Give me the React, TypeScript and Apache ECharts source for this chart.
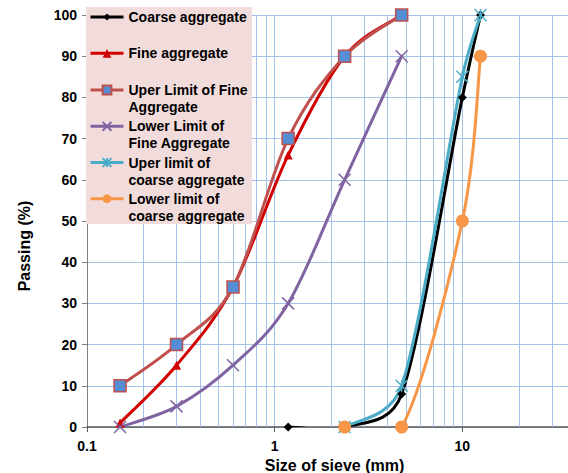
import React, { useEffect, useRef } from "react";
import * as echarts from "echarts";

// Sieve sizes (mm)
const sieveFine = [0.15, 0.3, 0.6, 1.18, 2.36, 4.75];
const sieveCoarse = [1.18, 2.36, 4.75, 10, 12.5];
const sieveCoarseLimits = [2.36, 4.75, 10, 12.5];

// Passing (%)
const coarseAggregate = [0, 0, 8, 80, 100];
const fineAggregate = [1, 15, 34, 66, 90, 100];
const upperLimitFine = [10, 20, 34, 70, 90, 100];
const lowerLimitFine = [0, 5, 15, 30, 60, 90];
const upperLimitCoarse = [0, 10, 85, 100];
const lowerLimitCoarse = [0, 0, 50, 90];

const seriesNames = [
  "Coarse aggregate",
  "Fine aggregate",
  "Uper Limit of Fine Aggregate",
  "Lower Limit of Fine Aggregate",
  "Uper limit of coarse aggregate",
  "Lower limit of coarse aggregate",
];
const legendLabels = [
  "Coarse aggregate",
  "Fine aggregate",
  "Uper Limit of Fine\nAggregate",
  "Lower Limit of\nFine Aggregate",
  "Uper limit of\ncoarse aggregate",
  "Lower limit of\ncoarse aggregate",
];

const xTickLabels = ["0.1", "1", "10"];
const minorGridX = [
  0.2, 0.3, 0.4, 0.5, 0.6, 0.7, 0.8, 0.9,
  2, 3, 4, 5, 6, 7, 8, 9,
  20, 30, 40, 50, 60, 70, 80, 90,
];

const FONT = "'Liberation Sans', Arial, sans-serif";
const GRID = "#A3C2EA";
const X_SYM = "path://M0,0L10,10M10,0L0,10";
const STAR_SYM = "path://M0,0L10,10M10,0L0,10M5,0L5,10";

export default function App() {
  const ref = useRef<HTMLDivElement>(null);
  useEffect(() => {
    if (!ref.current) return;
    const chart = echarts.init(ref.current, undefined, { renderer: "svg" });

    const pairs = (xs: number[], ys: number[]) => xs.map((x, i) => [x, ys[i]]);

    const defs = [
      { x: sieveCoarse, y: coarseAggregate, color: "#000000", symbol: "diamond", size: 9, fill: "#000000", border: "#000000", bw: 0, ih: 9 },
      { x: sieveFine, y: fineAggregate, color: "#D00000", symbol: "triangle", size: 9, fill: "#D00000", border: "#D00000", bw: 0, ih: 11 },
      { x: sieveFine, y: upperLimitFine, color: "#C0504D", symbol: "rect", size: 12, fill: "#558ED5", border: "#C0504D", bw: 1.5, ih: 11 },
      { x: sieveFine, y: lowerLimitFine, color: "#8064A2", symbol: X_SYM, size: 12, fill: "#8064A2", border: "#8064A2", bw: 1.5, ih: 11 },
      { x: sieveCoarseLimits, y: upperLimitCoarse, color: "#4BACC6", symbol: STAR_SYM, size: 12, fill: "#4BACC6", border: "#4BACC6", bw: 1.5, ih: 11 },
      { x: sieveCoarseLimits, y: lowerLimitCoarse, color: "#F79646", symbol: "circle", size: 13, fill: "#F79646", border: "#F79646", bw: 0, ih: 11 },
    ];

    const dist = (a: number[], b: number[]) => Math.hypot(a[0] - b[0], a[1] - b[1]);

    // Excel-like smoothed curve, computed in pixel space from the axis scales
    const curveSeries = (d: any, i: number) => ({
      type: "custom",
      name: "curve-" + i,
      data: pairs(d.x, d.y),
      encode: { x: 0, y: 1 },
      clip: true,
      silent: true,
      z: 2,
      renderItem: (params: any, api: any) => {
        const k = params.dataIndex;
        const n = d.x.length;
        if (k >= n - 1) return null;
        const P = (j: number) => {
          const jj = Math.max(0, Math.min(n - 1, j));
          return api.coord([d.x[jj], d.y[jj]]);
        };
        const p0 = P(k - 1), p1 = P(k), p2 = P(k + 1), p3 = P(k + 2);
        const d12 = dist(p1, p2);
        const d02 = dist(p0, p2);
        const d13 = dist(p1, p3);
        const f1 = d02 / 6 < d12 / 2 ? 1 / 6 : d02 > 0 ? d12 / 2 / d02 : 0;
        const f2 = d13 / 6 < d12 / 2 ? 1 / 6 : d13 > 0 ? d12 / 2 / d13 : 0;
        return {
          type: "bezierCurve",
          shape: {
            x1: p1[0], y1: p1[1], x2: p2[0], y2: p2[1],
            cpx1: p1[0] + (p2[0] - p0[0]) * f1,
            cpy1: p1[1] + (p2[1] - p0[1]) * f1,
            cpx2: p2[0] - (p3[0] - p1[0]) * f2,
            cpy2: p2[1] - (p3[1] - p1[1]) * f2,
          },
          style: { stroke: d.color, lineWidth: 3, fill: null, lineCap: "round" },
        };
      },
    });

    const series: any[] = [
      {
        type: "line",
        name: "grid",
        data: [],
        silent: true,
        z: 1,
        markLine: {
          z: 1,
          silent: true,
          symbol: ["none", "none"],
          label: { show: false },
          lineStyle: { color: GRID, width: 1, type: "solid" },
          data: minorGridX.map((v) => ({ xAxis: v })),
        },
      },
    ];
    defs.forEach((d, i) => {
      series.push(curveSeries(d, i));
      series.push({
        type: "line",
        name: seriesNames[i],
        data: pairs(d.x, d.y),
        symbol: d.symbol,
        symbolSize: d.size,
        color: d.color,
        lineStyle: { color: d.color, width: 3, opacity: 0 },
        itemStyle: { color: d.fill, borderColor: d.border, borderWidth: d.bw },
        silent: true,
        z: 2,
      });
    });

    const centers = [17, 53.3, 90, 126.3, 162.5, 198.7];
    const legends = defs.map((d, i) => {
      const two = legendLabels[i].includes("\n");
      return {
        data: [seriesNames[i]],
        orient: "vertical",
        left: 89,
        top: two ? centers[i] - 25.5 : centers[i] - 8.5,
        padding: 0,
        itemWidth: 33,
        itemHeight: d.ih,
        selectedMode: false,
        formatter: () => (two ? "\n" + legendLabels[i] : legendLabels[i]),
        lineStyle: { color: d.color, width: 3, opacity: 1, type: "solid" },
        textStyle: {
          fontFamily: FONT,
          fontSize: 14,
          fontWeight: "bold",
          color: "#000",
          lineHeight: 17,
        },
        z: 5,
      };
    });

    chart.setOption({
      animation: false,
      grid: { left: 87, width: 563, top: 15, bottom: 46, containLabel: false, outerBoundsMode: "none" },
      legend: legends,
      graphic: [
        {
          type: "rect",
          z: 3,
          shape: { x: 86, y: 7, width: 166, height: 217 },
          style: { fill: "#F2DCDB" },
          silent: true,
        },
      ],
      xAxis: {
        type: "log",
        logBase: 10,
        min: 0.1,
        max: 100,
        name: "Size of sieve (mm)",
        nameLocation: "middle",
        nameGap: 27,
        nameTextStyle: { fontFamily: FONT, fontSize: 16, fontWeight: "bold", color: "#000", padding: [0, 68, 0, 0] },
        axisLine: { lineStyle: { color: "#595959", width: 1.5 } },
        axisTick: { show: true, length: 5, lineStyle: { color: "#595959" } },
        axisLabel: {
          fontFamily: FONT,
          fontSize: 14,
          fontWeight: "bold",
          color: "#000",
          margin: 12,
          formatter: (v: number) => {
            const s = String(Math.round(v * 10) / 10);
            return xTickLabels.includes(s) ? s : "";
          },
        },
        splitLine: { show: true, lineStyle: { color: GRID, width: 1 } },
      },
      yAxis: {
        type: "value",
        min: 0,
        max: 100,
        interval: 10,
        name: "Passing (%)",
        nameLocation: "middle",
        nameGap: 55,
        nameTextStyle: { fontFamily: FONT, fontSize: 16, fontWeight: "bold", color: "#000", padding: [0, 50, 0, 0] },
        axisLine: { show: true, lineStyle: { color: "#7F7F7F", width: 1 } },
        axisTick: { show: true, length: 5, lineStyle: { color: "#7F7F7F" } },
        axisLabel: { fontFamily: FONT, fontSize: 14, fontWeight: "bold", color: "#000", margin: 10 },
        splitLine: { show: true, lineStyle: { color: GRID, width: 1 } },
      },
      series,
    });
    return () => chart.dispose();
  }, []);
  return (
    <div
      ref={ref}
      style={{ position: "absolute", left: 0, top: 0, width: 568, height: 473, background: "#fff" }}
    />
  );
}
